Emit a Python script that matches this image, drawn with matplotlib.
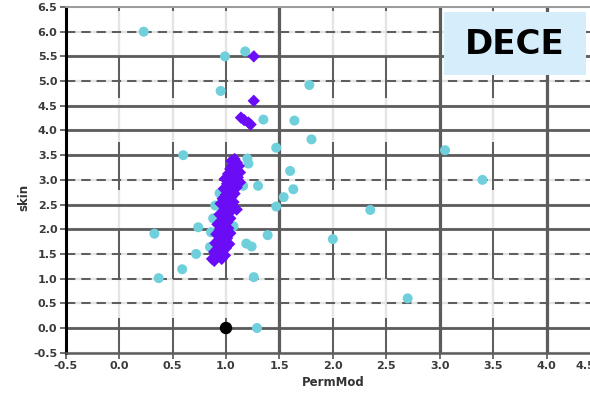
#!/usr/bin/env python3
"""DECE cross-plot: skin vs PermMod, with cyan/violet point groups and the zoned grid."""
import matplotlib
matplotlib.use("Agg")
import matplotlib.pyplot as plt
from matplotlib.patches import Rectangle
from matplotlib.transforms import ScaledTranslation

plt.rcParams["font.family"] = ["DejaVu Sans"]
plt.rcParams["lines.scale_dashes"] = False

# cyan group (PermMod, skin)
cyan_x = [0.23, 0.99, 1.18, 0.95, 1.35, 1.64, 1.78, 1.80, 0.60, 1.20, 1.21, 1.47, 1.60,
          1.63, 1.30, 1.16, 0.94, 3.05, 3.40, 1.54, 1.47, 0.33, 0.74, 1.07, 1.39, 1.19,
          1.24, 0.72, 0.59, 0.37, 1.26, 1.29, 0.90, 0.88, 0.86, 0.85, 2.35, 2.00, 2.70]
cyan_y = [6.00, 5.50, 5.60, 4.80, 4.22, 4.20, 4.92, 3.82, 3.50, 3.43, 3.33, 3.65, 3.18,
          2.81, 2.88, 2.88, 2.73, 3.60, 3.00, 2.65, 2.46, 1.91, 2.04, 2.06, 1.88, 1.71,
          1.65, 1.50, 1.19, 1.01, 1.03, 0.00, 2.48, 2.22, 1.94, 1.64, 2.39, 1.80, 0.60]

# violet group
violet_x = [1.26, 1.26, 1.14, 1.17, 1.21, 1.23,
            1.08, 1.05, 1.10, 1.06, 1.12, 1.04, 1.09, 1.13, 1.02, 1.07, 1.11, 0.99, 1.04,
            1.08, 1.13, 1.01, 1.06, 1.10, 0.98, 1.03, 1.08, 1.00, 1.05, 0.97, 1.02, 1.07,
            0.95, 1.00, 1.05, 1.10, 0.98, 1.03, 0.94, 0.99, 1.04, 0.96, 1.01, 0.92, 0.97,
            1.02, 0.94, 0.99, 1.04, 0.91, 0.96, 1.01, 0.93, 0.98, 1.03, 0.90, 0.95, 1.00,
            0.92, 0.97, 0.89, 0.94, 0.99, 0.91, 0.96, 0.87, 0.89]
violet_y = [5.50, 4.60, 4.26, 4.21, 4.16, 4.12,
            3.42, 3.38, 3.35, 3.30, 3.28, 3.22, 3.20, 3.15, 3.12, 3.10, 3.05, 3.02, 3.00,
            2.98, 2.95, 2.92, 2.88, 2.85, 2.82, 2.78, 2.72, 2.70, 2.65, 2.62, 2.58, 2.55,
            2.52, 2.48, 2.45, 2.40, 2.38, 2.33, 2.30, 2.26, 2.22, 2.18, 2.14, 2.10, 2.06,
            2.02, 1.98, 1.95, 1.92, 1.90, 1.86, 1.82, 1.78, 1.74, 1.70, 1.72, 1.66, 1.62,
            1.60, 1.56, 1.54, 1.50, 1.47, 1.44, 1.40, 1.40, 1.36]

# reference point
ref_x = [1.0]
ref_y = [0.0]

ticks_x = [-0.5, 0.0, 0.5, 1.0, 1.5, 2.0, 2.5, 3.0, 3.5, 4.0, 4.5]
ticks_y = [-0.5, 0.0, 0.5, 1.0, 1.5, 2.0, 2.5, 3.0, 3.5, 4.0, 4.5, 5.0, 5.5, 6.0, 6.5]

# grid layout
h_solid = [0.0, 2.0, 2.5, 3.5, 4.0, 4.5, 5.5]
h_dashed = [0.5, 1.0, 1.5, 3.0, 5.0, 6.0]
v_solid = [1.5, 3.0, 4.0]
v_partial = [0.0, 0.5, 1.0, 2.0, 2.5, 3.5]
v_spans = [(-0.5, 0.2), (1.0, 2.0), (2.8, 3.77), (4.65, 5.5), (6.42, 6.5)]

W, H = 590, 393
fig = plt.figure(figsize=(W / 100, H / 100), dpi=100)
ax = fig.add_axes([65.7 / W, 40.3 / H, 534.3 / W, 345.7 / H])
ax.set_xlim(-0.5, 4.5)
ax.set_ylim(-0.5, 6.5)

grid_c = "#5c5c5c"
for x in ticks_x:
    ax.axvline(x, color="#e4e4e4", lw=1.7, zorder=0)
for y in ticks_y:
    ax.axhline(y, color="#e4e4e4", lw=1.7, zorder=0)
for y in h_dashed:
    ax.axhline(y, color=grid_c, lw=1.4, ls=(0, (6.7, 4.3)), zorder=1)
for y in h_solid:
    ax.axhline(y, color=grid_c, lw=2.0, zorder=1)
for x in v_solid:
    ax.axvline(x, color=grid_c, lw=2.3, zorder=1)
for x in v_partial:
    for y0, y1 in v_spans:
        ax.plot([x, x], [y0, y1], color=grid_c, lw=1.4, zorder=1, solid_capstyle="butt")

ax.scatter(cyan_x, cyan_y, s=52, color="#6fd0dc", edgecolors="none", zorder=3)
ax.scatter(violet_x, violet_y, s=40, marker="D", color="#6a0cf5", edgecolors="none", zorder=4)
ax.scatter(ref_x, ref_y, s=80, color="black", edgecolors="none", zorder=5)

ax.set_xticks(ticks_x)
ax.set_yticks(ticks_y)
ax.set_xticklabels([f"{v:.1f}" for v in ticks_x])
ax.set_yticklabels([f"{v:.1f}" for v in ticks_y])
ax.tick_params(direction="out", length=4, width=1.2, color="#555", pad=2,
               labelsize=8, labelcolor="#3a3a3a")
for lab in ax.get_xticklabels() + ax.get_yticklabels():
    lab.set_fontweight("bold")
# last x label sits half off the edge, as in the original export
last = ax.get_xticklabels()[-1]
last.set_transform(last.get_transform() + ScaledTranslation(-0.15, 0, fig.dpi_scale_trans))

ax.spines["left"].set_color("black")
ax.spines["left"].set_linewidth(2.2)
ax.spines["bottom"].set_color(grid_c)
ax.spines["bottom"].set_linewidth(1.8)
ax.spines["top"].set_color("#9a9a9a")
ax.spines["top"].set_linewidth(1.4)
ax.spines["right"].set_visible(False)

ax.set_xlabel("PermMod", fontsize=8.5, fontweight="bold", color="#333")
ax.set_ylabel("skin", fontsize=8.5, fontweight="bold", color="#333")
ax.xaxis.set_label_coords(0.5, -0.067)
ax.yaxis.set_label_coords(-0.066, 0.45)

fig.add_artist(Rectangle((444 / W, 1 - 75 / H), 142 / W, 63 / H, transform=fig.transFigure,
                         facecolor="#d6edfb", edgecolor="none", zorder=10))
fig.text(515 / W, 1 - 44 / H, "DECE", fontsize=24.5, fontweight="bold", color="black",
         ha="center", va="center", zorder=11)

fig.savefig("out.png", dpi=100)
